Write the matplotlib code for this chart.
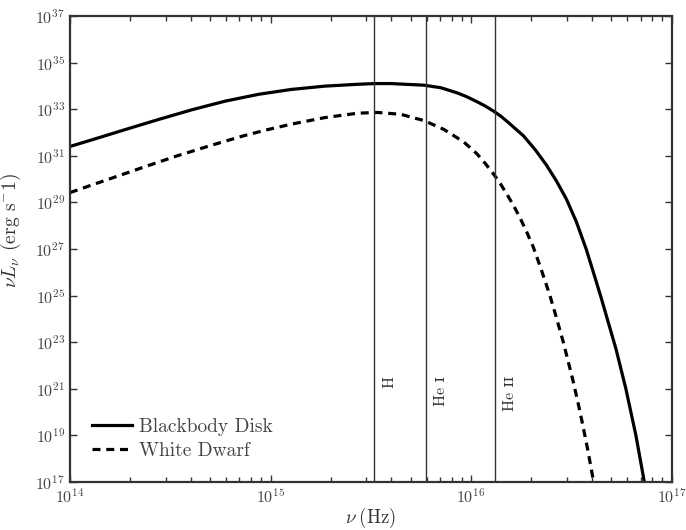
import numpy as np
import matplotlib
matplotlib.use("Agg")
import matplotlib.pyplot as plt
from matplotlib.ticker import NullLocator, LogLocator

plt.rcParams['font.family'] = ['cmr10', 'DejaVu Serif']
plt.rcParams['mathtext.fontset'] = 'cm'
plt.rcParams['axes.unicode_minus'] = False
plt.rcParams['axes.formatter.use_mathtext'] = True

# curves, as log10(nu / Hz) and log10(nu L_nu / erg s^-1)
disk_lognu = [14.000, 14.115, 14.281, 14.446, 14.610, 14.776, 14.941, 15.105,
              15.271, 15.436, 15.520, 15.601, 15.766, 15.850, 15.931, 15.980,
              16.030, 16.070, 16.112, 16.150, 16.186, 16.220, 16.261, 16.320,
              16.376, 16.425, 16.475, 16.525, 16.574, 16.610, 16.649, 16.723,
              16.772, 16.822, 16.863, 16.880]
disk_logL = [31.40, 31.70, 32.14, 32.57, 32.98, 33.35, 33.64, 33.85,
             33.99, 34.07, 34.10, 34.10, 34.03, 33.92, 33.70, 33.53,
             33.32, 33.14, 32.92, 32.69, 32.43, 32.17, 31.86, 31.26,
             30.60, 29.93, 29.15, 28.17, 27.00, 26.00, 24.90, 22.70,
             21.00, 19.00, 17.05, 16.20]

wd_lognu = [14.000, 14.100, 14.198, 14.363, 14.528, 14.693, 14.858, 14.974,
            15.105, 15.271, 15.436, 15.535, 15.650, 15.766, 15.865, 15.964,
            16.030, 16.070, 16.112, 16.145, 16.178, 16.211, 16.244, 16.277,
            16.310, 16.350, 16.392, 16.425, 16.459, 16.483, 16.508, 16.533,
            16.558, 16.583, 16.607, 16.625]
wd_logL = [29.42, 29.72, 30.01, 30.50, 30.98, 31.42, 31.84, 32.10,
           32.36, 32.64, 32.83, 32.86, 32.78, 32.51, 32.13, 31.59,
           31.08, 30.68, 30.22, 29.82, 29.36, 28.88, 28.34, 27.74,
           27.09, 26.12, 25.04, 24.07, 23.03, 22.22, 21.36, 20.42,
           19.41, 18.33, 17.20, 16.30]

# ionisation edges
edge_names = ['H', 'He ɪ', 'He ɪɪ']
edge_nu = [3.29e15, 5.95e15, 1.316e16]

fig = plt.figure(figsize=(6.86, 5.30), dpi=100)
ax = fig.add_axes([0.102, 0.0906, 0.877, 0.8792])

ax.plot(10 ** np.array(disk_lognu), 10 ** np.array(disk_logL), color='black',
        lw=2.3, label='Blackbody Disk')
ax.plot(10 ** np.array(wd_lognu), 10 ** np.array(wd_logL), color='black',
        lw=2.3, ls=(0, (2.5, 1.8)), label='White Dwarf')

for name, nu in zip(edge_names, edge_nu):
    ax.axvline(nu, color='#333333', lw=1.0)
    ax.annotate(name, xy=(nu, 10 ** 21.53), xytext=(11, 0),
                textcoords='offset points', rotation=90, ha='center', va='top',
                fontsize=11.5, color='#333333')

ax.set_xscale('log')
ax.set_yscale('log')
ax.set_xlim(1e14, 1e17)
ax.set_ylim(1e17, 1e37)
ax.set_yticks(10.0 ** np.arange(17, 38, 2))
ax.yaxis.set_minor_locator(NullLocator())
ax.xaxis.set_minor_locator(LogLocator(base=10, subs=np.arange(2, 10), numticks=20))

ax.tick_params(which='both', direction='in', top=True, right=True,
               colors='#333333', labelcolor='#444444', labelsize=11.5)
ax.tick_params(which='major', length=5, width=1.0)
ax.tick_params(which='minor', length=3.5, width=1.0)
for s in ax.spines.values():
    s.set_linewidth(1.6)
    s.set_color('#333333')

ax.set_xlabel(r'$\nu\;$(Hz)', fontsize=13.5, color='#333333', labelpad=0)
ax.set_ylabel(r'$\nu L_\nu$ (erg s$^{-}$1)', fontsize=14, color='#333333')
ax.yaxis.set_label_coords(-0.078, 0.54)

ax.legend(loc='lower left', frameon=False, fontsize=14, handlelength=2.05,
          handletextpad=0.35, labelspacing=0.3, borderaxespad=0.75,
          labelcolor='#444444')

fig.savefig('out.png', dpi=100)
